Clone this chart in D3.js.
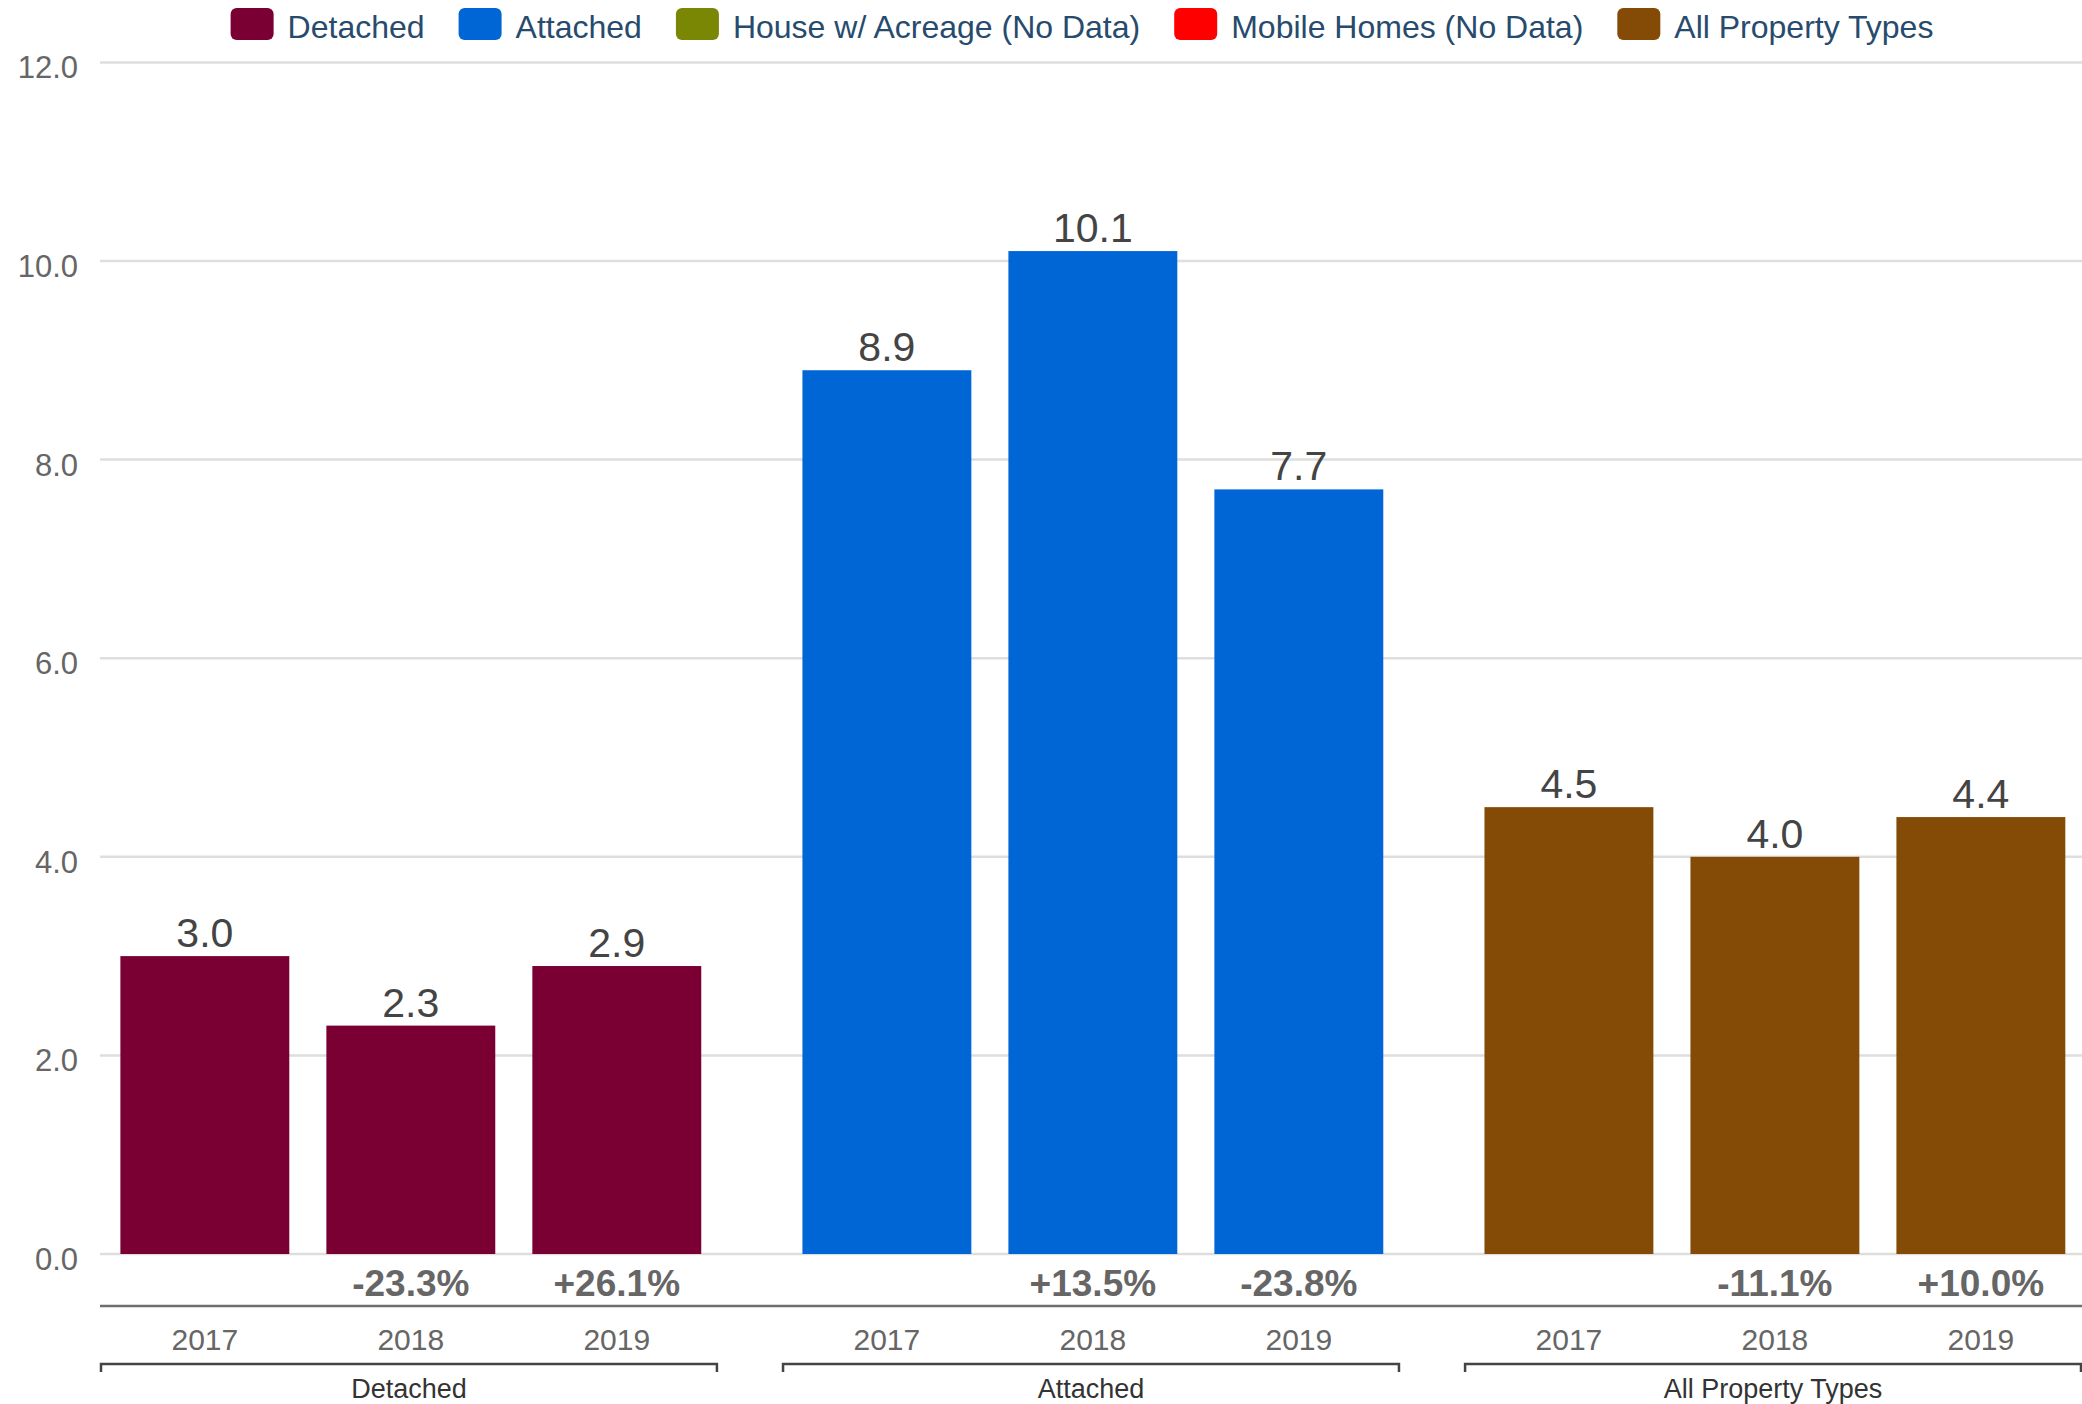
<!DOCTYPE html>
<html>
<head>
<meta charset="utf-8">
<script src="https://cdn.jsdelivr.net/npm/d3@7"></script>
<style>
  html, body { margin: 0; padding: 0; background: #fff; }
  svg { display: block; font-family: "Liberation Sans", Arial, Helvetica, sans-serif; }
</style>
</head>
<body>
<script>
(function(){
'use strict';

var groups = ['Detached', 'Attached', 'All Property Types'];
var years = ['2017', '2018', '2019'];

var detached = [3.0, 2.3, 2.9];
var attached = [8.9, 10.1, 7.7];
var allTypes = [4.5, 4.0, 4.4];

var detachedChange = ['', '-23.3%', '+26.1%'];
var attachedChange = ['', '+13.5%', '-23.8%'];
var allTypesChange = ['', '-11.1%', '+10.0%'];

var yTicks = [0, 2, 4, 6, 8, 10, 12];

var legendNames = ['Detached', 'Attached', 'House w/ Acreage (No Data)', 'Mobile Homes (No Data)', 'All Property Types'];
var legendColors = ['#7a0033', '#0066d6', '#7a8704', '#ff0000', '#834b05'];

var width = 2082;
var height = 1404;
var left = 100, right = 2082, zero = 1254;

var series = [
  {name: groups[0], values: detached, change: detachedChange, color: legendColors[0]},
  {name: groups[1], values: attached, change: attachedChange, color: legendColors[1]},
  {name: groups[2], values: allTypes, change: allTypesChange, color: legendColors[4]}
];

var svg = d3.select('body').append('svg')
  .attr('width', width)
  .attr('height', height);

var y = d3.scaleLinear().domain([0, 12]).range([zero, zero - 12 * 99.3]);

var xGroup = d3.scaleBand().domain(groups).range([left, right])
  .paddingInner(0.094).paddingOuter(0);
var xYear = d3.scaleBand().domain(years).range([0, xGroup.bandwidth()])
  .paddingInner(0.18).paddingOuter(0.09).align(0.55);

// grid
svg.append('g').selectAll('line')
  .data(yTicks)
  .enter().append('line')
  .attr('x1', left).attr('x2', right)
  .attr('y1', function(d){ return y(d); })
  .attr('y2', function(d){ return y(d); })
  .attr('stroke', '#dedede')
  .attr('stroke-width', 2.5);

svg.append('g').selectAll('text')
  .data(yTicks)
  .enter().append('text')
  .attr('x', 78)
  .attr('y', function(d){ return y(d) + 16; })
  .attr('text-anchor', 'end')
  .attr('font-size', 31)
  .attr('fill', '#666')
  .text(function(d){ return d.toFixed(1); });

// bars
var g = svg.selectAll('.grp')
  .data(series)
  .enter().append('g')
  .attr('class', 'grp')
  .attr('transform', function(d){ return 'translate(' + xGroup(d.name) + ',0)'; });

g.selectAll('rect')
  .data(function(d){ return d.values.map(function(v, i){ return {v: v, year: years[i], color: d.color}; }); })
  .enter().append('rect')
  .attr('x', function(d){ return xYear(d.year); })
  .attr('width', xYear.bandwidth())
  .attr('y', function(d){ return y(d.v); })
  .attr('height', function(d){ return zero - y(d.v); })
  .attr('fill', function(d){ return d.color; });

g.selectAll('.val')
  .data(function(d){ return d.values.map(function(v, i){ return {v: v, year: years[i]}; }); })
  .enter().append('text')
  .attr('class', 'val')
  .attr('x', function(d){ return xYear(d.year) + xYear.bandwidth() / 2; })
  .attr('y', function(d){ return y(d.v) - 9; })
  .attr('text-anchor', 'middle')
  .attr('font-size', 41)
  .attr('fill', '#444')
  .text(function(d){ return d.v.toFixed(1); });

g.selectAll('.pct')
  .data(function(d){ return d.change.map(function(c, i){ return {c: c, year: years[i]}; }); })
  .enter().append('text')
  .attr('class', 'pct')
  .attr('x', function(d){ return xYear(d.year) + xYear.bandwidth() / 2; })
  .attr('y', 1296)
  .attr('text-anchor', 'middle')
  .attr('font-size', 37)
  .attr('font-weight', 'bold')
  .attr('fill', '#666')
  .text(function(d){ return d.c; });

g.selectAll('.yr')
  .data(years)
  .enter().append('text')
  .attr('class', 'yr')
  .attr('x', function(d){ return xYear(d) + xYear.bandwidth() / 2; })
  .attr('y', 1350)
  .attr('text-anchor', 'middle')
  .attr('font-size', 30)
  .attr('fill', '#666')
  .text(function(d){ return d; });

// axis line
svg.append('line')
  .attr('x1', left).attr('x2', right)
  .attr('y1', 1306).attr('y2', 1306)
  .attr('stroke', '#6e6e6e')
  .attr('stroke-width', 2.5);

// group brackets
g.append('path')
  .attr('d', function(){
    var w = xGroup.bandwidth() - 1;
    return 'M1,1372V1364H' + w + 'V1372';
  })
  .attr('fill', 'none')
  .attr('stroke', '#444')
  .attr('stroke-width', 2.5);

g.append('text')
  .attr('x', xGroup.bandwidth() / 2)
  .attr('y', 1398)
  .attr('text-anchor', 'middle')
  .attr('font-size', 27)
  .attr('fill', '#333')
  .text(function(d){ return d.name; });

// legend
var legend = svg.append('g');
var items = legend.selectAll('g')
  .data(legendNames)
  .enter().append('g');

items.append('rect')
  .attr('width', 43).attr('height', 32)
  .attr('y', 8)
  .attr('rx', 6)
  .attr('fill', function(d, i){ return legendColors[i]; });

items.append('text')
  .attr('x', 57)
  .attr('y', 38)
  .attr('font-size', 32)
  .attr('fill', '#274b6d')
  .text(function(d){ return d; });

var lx = 0;
items.each(function(){
  var item = d3.select(this);
  item.attr('transform', 'translate(' + lx + ',0)');
  lx += 57 + item.select('text').node().getComputedTextLength() + 34;
});
var legendWidth = lx - 34;
legend.attr('transform', 'translate(' + (1082 - legendWidth / 2) + ',0)');

})();
</script>
</body>
</html>
